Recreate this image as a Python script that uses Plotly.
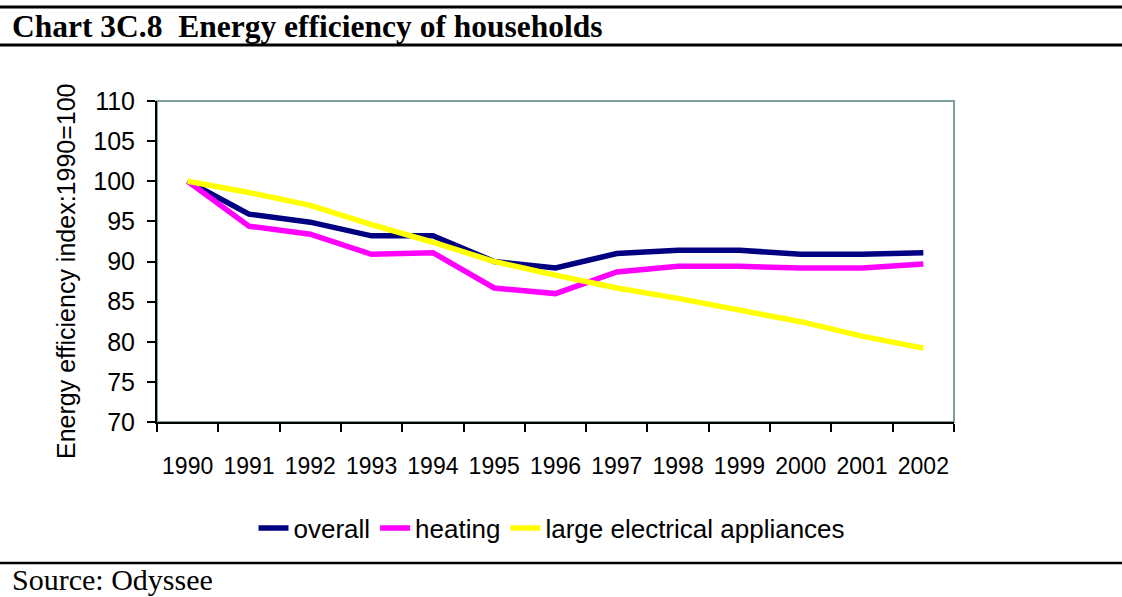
import plotly.graph_objects as go

# datos (indice 1990=100)
years = ["1990", "1991", "1992", "1993", "1994", "1995", "1996",
         "1997", "1998", "1999", "2000", "2001", "2002"]
overall = [100, 95.9, 94.9, 93.2, 93.2, 90.0, 89.2, 91.0, 91.4, 91.4, 90.9, 90.9, 91.1]
heating = [100, 94.4, 93.4, 90.9, 91.1, 86.7, 86.0, 88.7, 89.4, 89.4, 89.2, 89.2, 89.7]
appliances = [100, 98.6, 97.0, 94.6, 92.4, 90.0, 88.3, 86.7, 85.4, 83.9, 82.5, 80.7, 79.2]

series = [
    ("overall", overall, "#000080"),
    ("heating", heating, "#FF00FF"),
    ("large electrical appliances", appliances, "#FFFF00"),
]

# posiciones en pixeles del area del grafico
L, R, T, B = 157, 168, 101, 175
W, H = 1122, 597
pw, ph = W - L - R, H - T - B


def px_x(x):
    return (x - L) / pw


def px_y(y):
    return (H - B - y) / ph


fig = go.Figure()
for name, vals, color in series:
    fig.add_trace(go.Scatter(
        x=years, y=vals, mode="lines", name=name,
        line=dict(color=color, width=5.5),
    ))

fig.update_layout(
    width=W, height=H,
    margin=dict(l=L, r=R, t=T, b=B, pad=0),
    paper_bgcolor="white",
    plot_bgcolor="white",
    font=dict(family="Liberation Sans, Arial", size=22, color="black"),
    showlegend=True,
    legend=dict(
        orientation="h",
        x=px_x(552), xanchor="center",
        y=px_y(528), yanchor="middle",
        font=dict(size=26),
        itemwidth=30,
        tracegroupgap=0,
    ),
    xaxis=dict(
        type="category",
        range=[-0.5, len(years) - 0.5],
        tickson="boundaries",
        tickangle=0,
        ticks="outside", ticklen=8, tickwidth=2, tickcolor="black",
        showline=True, linecolor="black", linewidth=2,
        showgrid=False, zeroline=False,
        ticklabelstandoff=22,
        tickfont=dict(size=23),
    ),
    yaxis=dict(
        range=[70, 110], dtick=5,
        ticks="outside", ticklen=8, tickwidth=2, tickcolor="black",
        showline=True, linecolor="black", linewidth=2,
        showgrid=False, zeroline=False,
        ticklabelstandoff=7,
        tickfont=dict(size=25),
    ),
)

# marco gris del area de trazado
fig.add_shape(type="rect", xref="paper", yref="paper", x0=0, x1=1, y0=0, y1=1,
              line=dict(color="#7f9f9f", width=2), layer="below")

# lineas horizontales del encabezado y pie
x0, x1 = px_x(0), px_x(W)
for yy, wd in [(7, 3), (45, 3), (563, 2.5)]:
    fig.add_shape(type="line", xref="paper", yref="paper",
                  x0=x0, x1=x1, y0=px_y(yy), y1=px_y(yy),
                  line=dict(color="black", width=wd))

fig.add_annotation(
    text="<b>Chart 3C.8  Energy efficiency of households</b>",
    xref="paper", yref="paper", x=px_x(10), y=px_y(27),
    xanchor="left", yanchor="middle", showarrow=False,
    font=dict(family="Liberation Serif, Times New Roman", size=31.5, color="black"),
)
fig.add_annotation(
    text="Source: Odyssee",
    xref="paper", yref="paper", x=px_x(10), y=px_y(579),
    xanchor="left", yanchor="middle", showarrow=False,
    font=dict(family="Liberation Serif, Times New Roman", size=30, color="black"),
)
fig.add_annotation(
    text="Energy efficiency index:1990=100",
    xref="paper", yref="paper", x=px_x(66), y=px_y(271),
    xanchor="center", yanchor="middle", showarrow=False, textangle=-90,
    font=dict(size=25, color="black"),
)

fig.write_html("out.html", config={"displayModeBar": False},
               post_script="document.body.style.margin='0';")
